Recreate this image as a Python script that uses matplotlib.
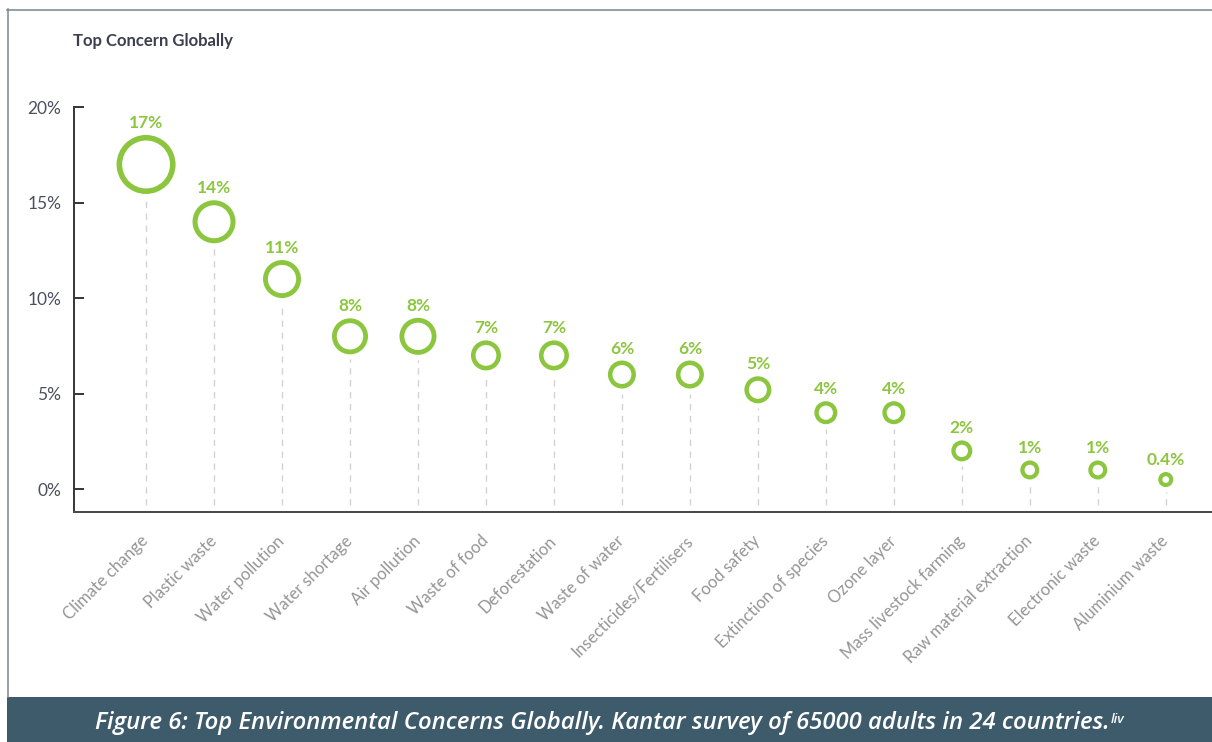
import matplotlib
matplotlib.use("Agg")
import matplotlib.pyplot as plt
from matplotlib.lines import Line2D
from matplotlib.patches import Rectangle

# ---------------- data ----------------
categories = ["Climate change", "Plastic waste", "Water pollution", "Water shortage",
              "Air pollution", "Waste of food", "Deforestation", "Waste of water",
              "Insecticides/Fertilisers", "Food safety", "Extinction of species",
              "Ozone layer", "Mass livestock farming", "Raw material extraction",
              "Electronic waste", "Aluminium waste"]
values = [17, 14, 11, 8, 8, 7, 7, 6, 6, 5.2, 4, 4, 2, 1, 1, 0.5]
value_labels = ["17%", "14%", "11%", "8%", "8%", "7%", "7%", "6%", "6%", "5%",
                "4%", "4%", "2%", "1%", "1%", "0.4%"]
y_ticks = [0, 5, 10, 15, 20]
y_tick_labels = ["0%", "5%", "10%", "15%", "20%"]
title = "Top Concern Globally"
caption = "Figure 6: Top Environmental Concerns Globally. Kantar survey of 65000 adults in 24 countries."
caption_sup = "liv"

# ---------------- style ----------------
ring_diam_px = [59, 43, 38, 36, 37, 30, 30, 28, 28, 27, 23, 23, 21, 19, 19, 15]
GREEN = "#8cc63f"
W, H = 1212, 742
DPI = 100
PT = 72.0 / DPI  # points per pixel

fig = plt.figure(figsize=(W / DPI, H / DPI), dpi=DPI)
fig.patch.set_facecolor("white")

ax_left, ax_right = 74, 1212
ax_top, ax_bottom = 69, 512
ax = fig.add_axes([ax_left / W, (H - ax_bottom) / H,
                   (ax_right - ax_left) / W, (ax_bottom - ax_top) / H])
ax.set_facecolor("none")
ymin, ymax = -1.2, 22
ax.set_xlim(-1.06, 15.68)
ax.set_ylim(ymin, ymax)
px_per_unit = (ax_bottom - ax_top) / (ymax - ymin)

for s in ["top", "right"]:
    ax.spines[s].set_visible(False)
ax.spines["left"].set_bounds(ymin, 20)
ax.spines["left"].set_linewidth(2 * PT)
ax.spines["left"].set_color("#3a3a3a")
ax.spines["bottom"].set_linewidth(2 * PT)
ax.spines["bottom"].set_color("#4a4a4a")

x = list(range(len(categories)))

# dashed stems
for xi, v, d in zip(x, values, ring_diam_px):
    top = v - (d / 2 + 5) / px_per_unit
    ax.plot([xi, xi], [-0.85, top], color="#d2d2d2", lw=1.4 * PT,
            ls=(0, (4.5, 4)), zorder=1, solid_capstyle="butt")

# rings
lw_px = [3.6 + 0.033 * d for d in ring_diam_px]
sizes = [((d - l) * PT) ** 2 for d, l in zip(ring_diam_px, lw_px)]
ax.scatter(x, values, s=sizes, facecolors="white", edgecolors=GREEN,
           linewidths=[l * PT for l in lw_px], zorder=3, clip_on=False)

# value labels
for xi, v, d, lab in zip(x, values, ring_diam_px, value_labels):
    ax.annotate(lab, (xi, v), xytext=(0, (d / 2 + 4) * PT), textcoords="offset points",
                ha="center", va="bottom", color=GREEN, fontsize=12.5,
                fontweight="bold", family="Lato", zorder=4)

# y axis
ax.set_yticks(y_ticks)
ax.set_yticklabels(y_tick_labels, family="Lato", fontsize=12.5, color="#4b505c")
ax.tick_params(axis="y", direction="in", length=10 * PT, width=2 * PT,
               color="#3a3a3a", pad=9)

# x axis labels
ax.set_xticks(x)
ax.set_xticklabels(categories, rotation=45, ha="right", va="center",
                   rotation_mode="anchor", family="Lato", fontsize=12,
                   color="#959595", fontweight="normal")
ax.tick_params(axis="x", length=0, pad=19)

# title
fig.text(73 / W, 1 - 41 / H, title, family="Lato", fontweight="bold",
         fontsize=12, color="#3b3f4e", ha="left", va="center")

# frame lines
fig.add_artist(Line2D([7.5 / W, 7.5 / W], [(H - 697) / H, 1 - 9 / H],
                      transform=fig.transFigure, color="#74858f", lw=1.5 * PT))
fig.add_artist(Line2D([7 / W, 1.0], [1 - 9.5 / H, 1 - 9.5 / H],
                      transform=fig.transFigure, color="#74858f", lw=1.5 * PT))

# caption band
fig.add_artist(Rectangle((7 / W, 0), 1, 45 / H, transform=fig.transFigure,
                         facecolor="#3e5b6b", edgecolor="none"))
cap = fig.text(602 / W, 19 / H, caption, family="Open Sans", fontweight="semibold",
               style="italic", fontsize=17.2, color="white", ha="center", va="center")
fig.canvas.draw()
bb = cap.get_window_extent(renderer=fig.canvas.get_renderer())
fig.text((bb.x1 + 1) / W, (bb.y1 - 2) / H, caption_sup, family="Open Sans",
         fontweight="semibold", style="italic", fontsize=9.5, color="white",
         ha="left", va="top")

fig.savefig("out.png", dpi=DPI, facecolor="white")
